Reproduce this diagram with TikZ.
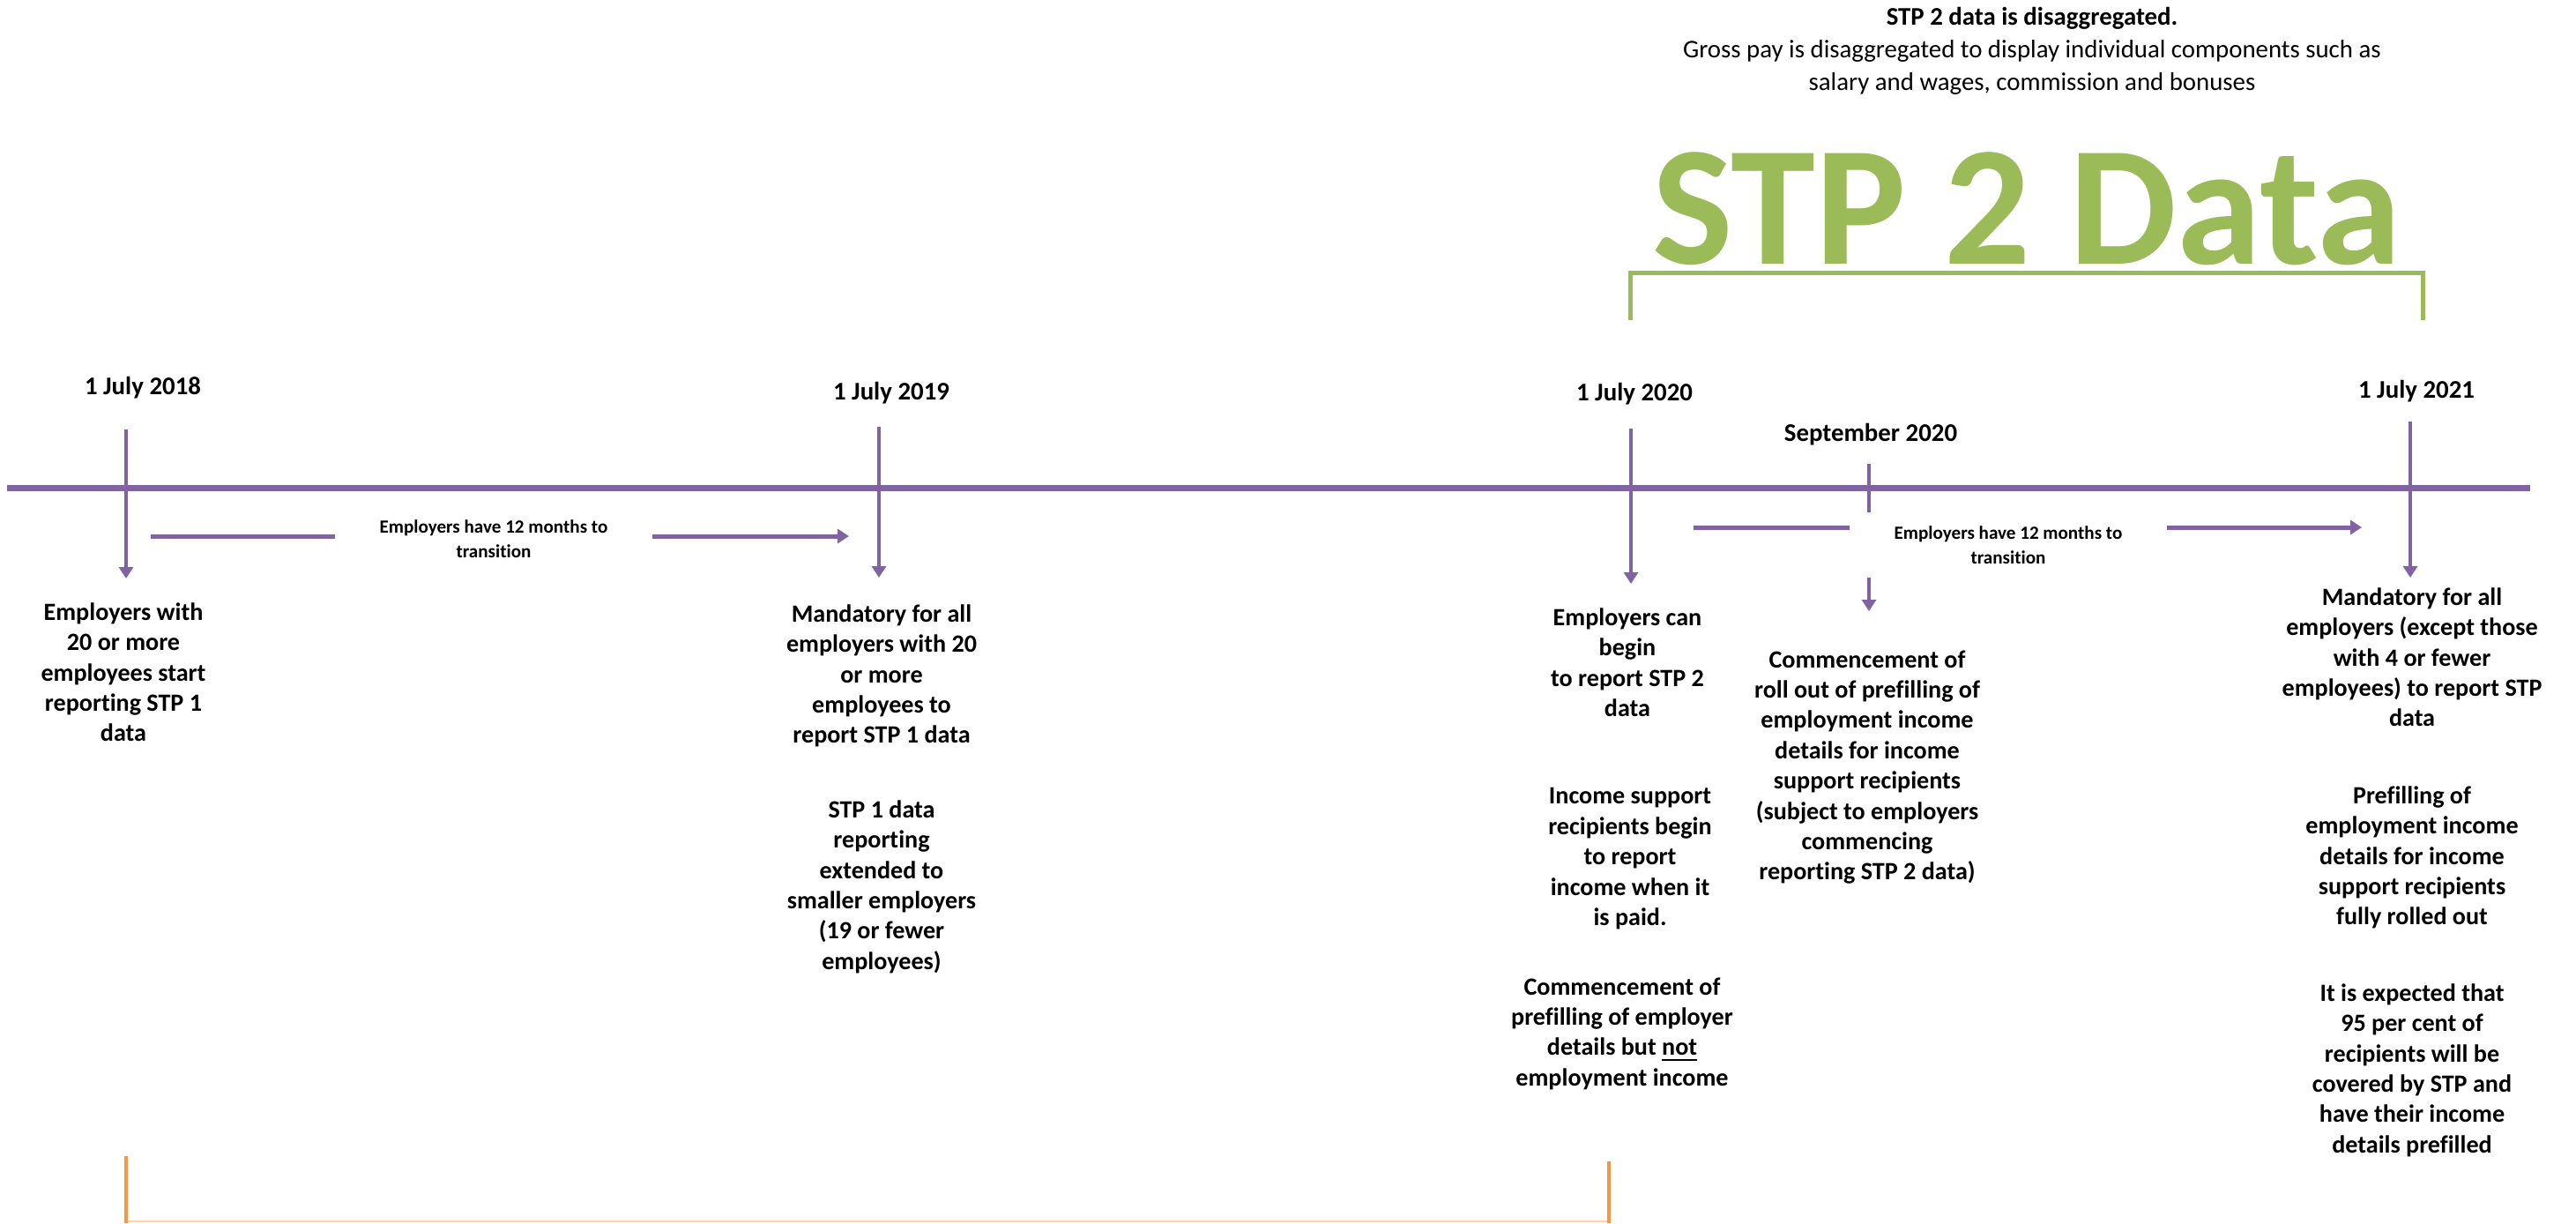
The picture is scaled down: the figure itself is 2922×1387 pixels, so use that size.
\documentclass[tikz,border=0pt]{standalone}
\usepackage{fontspec}
\setmainfont{Carlito}[Ligatures=NoCommon]
\usetikzlibrary{arrows.meta, positioning}
\definecolor{stppurple}{HTML}{8064A2}
\definecolor{stpgreen}{HTML}{9BBB59}
\definecolor{stporange}{HTML}{F79646}
\tikzset{
>={Triangle[width=0.16cm, length=0.13cm]}, % small solid heads on every arrow
datelabel/.style={font=\fontsize{8.2}{10}\selectfont\bfseries, inner sep=0pt}, % the dates over the line
event/.style={font=\fontsize{8}{9.77}\selectfont\bfseries, align=center, anchor=north, inner sep=0pt, execute at begin node=\strut}, % text under a date
tickarrow/.style={->, draw=stppurple, line width=0.045cm},
spanarrow/.style={->, draw=stppurple, line width=0.05cm},
gapbox/.style={font=\fontsize{6}{7.9}\selectfont\bfseries, align=center, fill=white, inner sep=0pt, minimum width=3.6cm, minimum height=0.73cm}, % white box breaking a span arrow
}
\begin{document}
\begin{tikzpicture}[x=0.01cm, y=-0.01cm]
\useasboundingbox (0,0) rectangle (2922,1387);

% heading and the STP 2 bracket
\node[font=\fontsize{8.2}{10.5}\selectfont, align=center, anchor=north, inner sep=0pt, execute at begin node=\strut] (head) at (2305,8)
    {\textbf{STP 2 data is disaggregated.}\\Gross pay is disaggregated to display individual components such as\\salary and wages, commission and bonuses};
\node[font=\fontsize{55}{60}\selectfont\bfseries, text=stpgreen, anchor=base, inner sep=0pt] (big) at (2299,299) {STP 2 Data};
\draw[stpgreen, line width=0.05cm] (1849,363) |- (2748,309) -- (2748,363);

% time line
\coordinate (l0) at (8,553);
\coordinate (l1) at (2870,553);
\draw[stppurple, line width=0.07cm] (l0) -- (l1);

% dates
\node[datelabel] (d18) at (162,440) {1 July 2018};
\node[datelabel] (d19) at (1011,446) {1 July 2019};
\node[datelabel] (d20) at (1854,447) {1 July 2020};
\node[datelabel] (dsep) at (2122,493) {September 2020};
\node[datelabel] (d21) at (2741,444) {1 July 2021};

\coordinate (a18) at (143,487);  \coordinate (b18) at (143,656);
\coordinate (a19) at (997,484);  \coordinate (b19) at (997,655);
\coordinate (a20) at (1850,486); \coordinate (b20) at (1850,662);
\coordinate (asep) at (2120,526); \coordinate (bsep) at (2120,693);
\coordinate (a21) at (2734,478); \coordinate (b21) at (2734,655);
\draw[tickarrow] (a18) -- (b18);
\draw[tickarrow] (a19) -- (b19);
\draw[tickarrow] (a20) -- (b20);
\draw[tickarrow] (asep) -- (bsep);
\draw[tickarrow] (a21) -- (b21);

% transition periods
\coordinate (s1) at (171,608);  \coordinate (e1) at (963,608);
\coordinate (s2) at (1921,598); \coordinate (e2) at (2679,598);
\draw[spanarrow] (s1) -- (e1);
\draw[spanarrow] (s2) -- (e2);
\node[gapbox] (g1) at (560,611) {Employers have 12 months to\\transition};
\node[gapbox] (g2) at (2278,618) {Employers have 12 months to\\transition};

% events
\node[event] (t18) at (140,683) {Employers with\\20 or more\\employees start\\reporting STP 1\\data};
\node[event] (t19a) at (1000,685) {Mandatory for all\\employers with 20\\or more\\employees to\\report STP 1 data};
\node[event] (t19b) at (1000,907) {STP 1 data\\reporting\\extended to\\smaller employers\\(19 or fewer\\employees)};
\node[event] (t20a) at (1846,689) {Employers can\\begin\\to report STP 2\\data};
\node[event] (t20b) at (1849,893) {Income support\\recipients begin\\to report\\income when it\\is paid.};
\node[event] (t20c) at (1840,1108) {Commencement of\\prefilling of employer\\details but \underline{not}\\employment income};
\node[event] (tsep) at (2118,737) {Commencement of\\roll out of prefilling of\\employment income\\details for income\\support recipients\\(subject to employers\\commencing\\reporting STP 2 data)};
\node[event] (t21a) at (2736,666) {Mandatory for all\\employers (except those\\with 4 or fewer\\employees) to report STP\\data};
\node[event] (t21b) at (2736,891) {Prefilling of\\employment income\\details for income\\support recipients\\fully rolled out};
\node[event] (t21c) at (2736,1115) {It is expected that\\95 per cent of\\recipients will be\\covered by STP and\\have their income\\details prefilled};

% STP 1 bracket
\draw[stporange!45, line width=0.02cm] (143,1385) -- (1825,1385);
\draw[stporange, line width=0.04cm] (143,1311) -- (143,1387);
\draw[stporange, line width=0.04cm] (1825,1317) -- (1825,1387);
\end{tikzpicture}
\end{document}
